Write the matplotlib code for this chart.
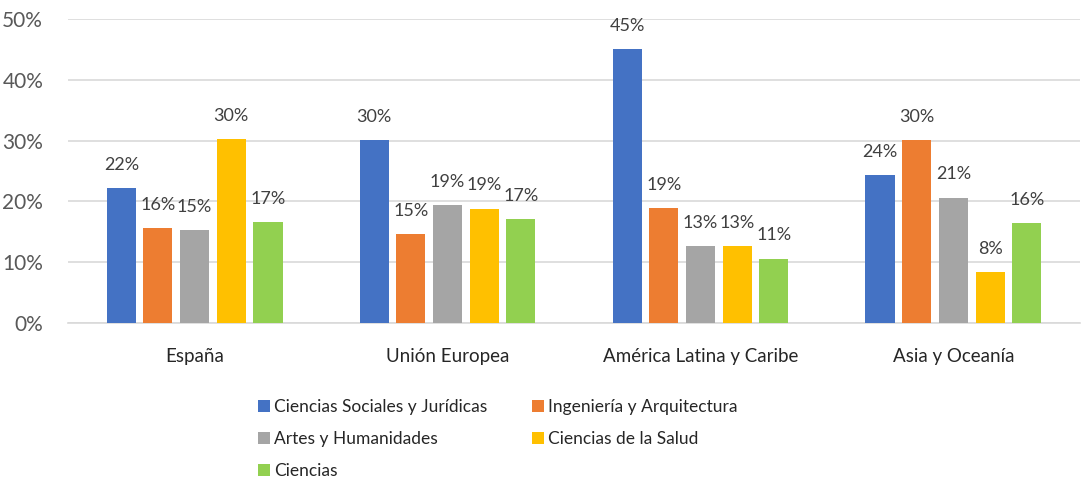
#!/usr/bin/python3
# coding: utf-8

'''
Bar chart: share of students by field of study and region of origin
'''

import matplotlib
matplotlib.use('Agg')
import matplotlib.pyplot as plt
from matplotlib.ticker import PercentFormatter
import numpy as np

OUT_FILENAME = 'out.png'

regions = ['España', 'Unión Europea', 'América Latina y Caribe', 'Asia y Oceanía']
fields = ['Ciencias Sociales y Jurídicas', 'Ingeniería y Arquitectura',
          'Artes y Humanidades', 'Ciencias de la Salud', 'Ciencias']

## one list per field, values in percent, in the order of regions
sociales = [22.2, 30.1, 45.0, 24.3]
ingenieria = [15.6, 14.6, 18.9, 30.1]
artes = [15.3, 19.4, 12.7, 20.6]
salud = [30.3, 18.8, 12.7, 8.4]
ciencias = [16.6, 17.1, 10.6, 16.4]

colors = ['#4472C4', '#ED7D31', '#A5A5A5', '#FFC000', '#92D050']

plt.rcParams['font.family'] = ['Lato', 'DejaVu Sans']

fig = plt.figure(figsize=(10.82, 4.84), dpi=100)
ax = fig.add_axes([0.063, 0.3326, 0.935, 0.6281])

series = [sociales, ingenieria, artes, salud, ciencias]
x = np.arange(len(regions))
step = 0.145
width = 0.115

for i, (name, values, color) in enumerate(zip(fields, series, colors)):
    pos = x + (i - 2) * step
    bars = ax.bar(pos, values, width=width, color=color, label=name, zorder=3)
    for b, v in zip(bars, values):
        ax.annotate('{0:.0f}%'.format(v), (b.get_x() + b.get_width() / 2, v),
                    xytext=(0, 11), textcoords='offset points',
                    ha='center', va='bottom', fontsize=13, color='#404040')

## axes styling, close to the spreadsheet look
ax.set_xlim(-0.5, len(regions) - 0.5)
ax.set_ylim(0, 50)
ax.set_yticks(np.arange(0, 51, 10))
ax.yaxis.set_major_formatter(PercentFormatter(decimals=0))
ax.grid(axis='y', color='#D9D9D9', linewidth=1.2, zorder=0)
for side in ['top', 'right', 'left']:
    ax.spines[side].set_visible(False)
ax.spines['bottom'].set_color('#D9D9D9')
ax.spines['bottom'].set_linewidth(1.2)
ax.tick_params(axis='y', length=0, labelsize=15, labelcolor='#595959', pad=18)
ax.tick_params(axis='x', length=0, labelsize=13.5, labelcolor='#262626', pad=18)
ax.set_xticks(x)
ax.set_xticklabels(regions)

## legend laid out row by row, like the spreadsheet one
handles, labels = ax.get_legend_handles_labels()
order = [0, 2, 4, 1, 3]
fig.legend([handles[k] for k in order], [labels[k] for k in order],
           loc='upper left', bbox_to_anchor=(0.232, 0.19), ncol=2,
           frameon=False, fontsize=12.5, handlelength=0.7, handleheight=0.7,
           handletextpad=0.25, columnspacing=2.55, labelspacing=0.92,
           borderaxespad=0, labelcolor='#262626')

fig.savefig(OUT_FILENAME, dpi=100)
